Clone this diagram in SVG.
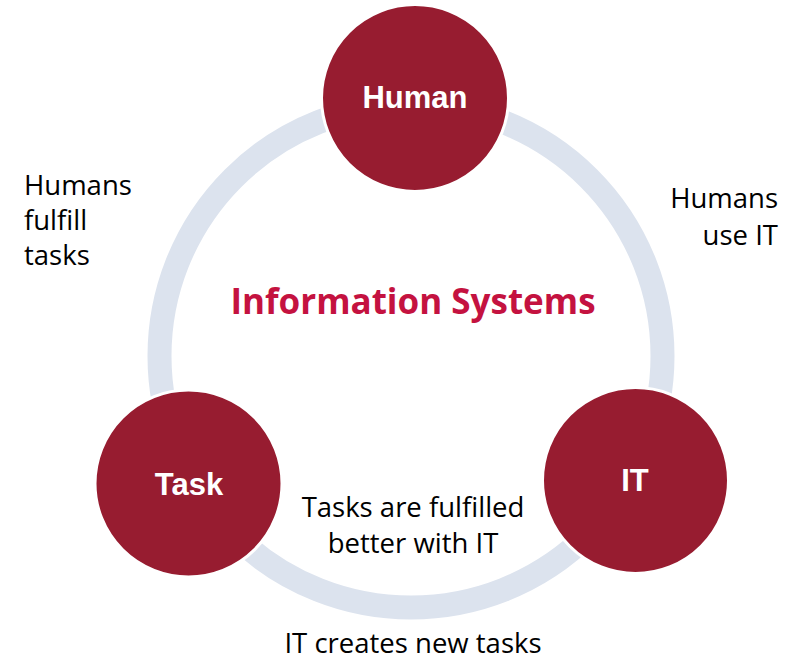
<svg xmlns="http://www.w3.org/2000/svg" width="792" height="661" viewBox="0 0 792 661">
<style>
.node{fill:#971C30;stroke:#FFFFFF;stroke-width:3}
.nl{font-family:"Liberation Sans",Arial,sans-serif;font-weight:bold;font-size:31px;fill:#FFFFFF;text-anchor:middle}
.lbl{font-family:"Open Sans","Noto Sans",sans-serif;font-size:27.5px;fill:#000000}
.title{font-family:"Open Sans","Noto Sans",sans-serif;font-weight:bold;font-size:35px;fill:#C41240;text-anchor:middle}
</style>
<rect width="792" height="661" fill="#FFFFFF"/>
<g id="connectors">
<circle cx="411" cy="356" r="251.5" fill="none" stroke="#DCE3EE" stroke-width="24"/>
</g>
<text class="title" x="413" y="314">Information Systems</text>
<g id="human">
<circle class="node" cx="415" cy="98" r="93.5"/>
<text class="nl" x="415" y="108">Human</text>
</g>
<g id="task">
<circle class="node" cx="188.5" cy="483.5" r="93.5"/>
<text class="nl" x="189" y="495">Task</text>
</g>
<g id="it">
<circle class="node" cx="635.5" cy="480.5" r="93"/>
<text class="nl" x="635" y="491">IT</text>
</g>
<g id="labels">
<text class="lbl" x="24" y="195">Humans</text>
<text class="lbl" x="24" y="230">fulfill</text>
<text class="lbl" x="24" y="265">tasks</text>
<text class="lbl" x="778" y="208" text-anchor="end">Humans</text>
<text class="lbl" x="778" y="245" text-anchor="end">use IT</text>
<text class="lbl" x="413" y="517" text-anchor="middle">Tasks are fulfilled</text>
<text class="lbl" x="413" y="553" text-anchor="middle">better with IT</text>
<text class="lbl" x="413" y="653" text-anchor="middle">IT creates new tasks</text>
</g>
</svg>
